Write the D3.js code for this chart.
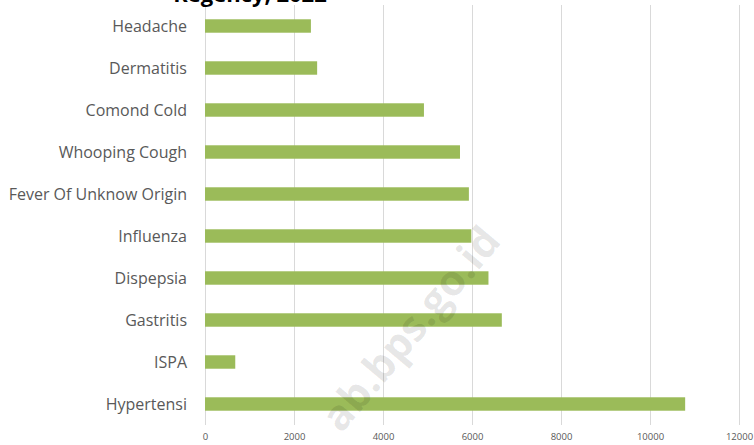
<!DOCTYPE html>
<html>
  <head>
    <meta charset="utf-8">
    <title>Diseases</title>
    <script src="https://d3js.org/d3.v7.min.js"></script>
    <style>
    body { margin: 0; background: #fff; }
    .grid-line { stroke: #d9d9d9; stroke-width: 1px; }
    .cat-label { font-family: "Open Sans", sans-serif; font-size: 16px; fill: #595959; }
    .x-axis text { font-family: "Open Sans", sans-serif; font-size: 9.5px; fill: #595959; }
    </style>
  </head>
  <body>
    <script>
      // data
      const categories = ["Headache", "Dermatitis", "Comond Cold", "Whooping Cough",
        "Fever Of Unknow Origin", "Influenza", "Dispepsia", "Gastritis", "ISPA", "Hypertensi"];
      const cases = [2380, 2520, 4920, 5730, 5930, 5985, 6370, 6670, 680, 10790];
      const xTicks = [0, 2000, 4000, 6000, 8000, 10000, 12000];

      const width = 754;
      const height = 445;

      const svg = d3.select("body")
        .append("svg")
          .attr("width", width)
          .attr("height", height);

      const xScale = d3.scaleLinear()
        .domain([0, 12000])
        .range([205, 739]);

      const yScale = d3.scaleBand()
        .domain(categories)
        .range([5, 425])
        .paddingInner(0.68)
        .paddingOuter(0.34);

      // vertical grid lines
      svg.append("g")
        .selectAll("line")
        .data(xTicks)
        .enter()
        .append("line")
          .classed("grid-line", true)
          .attr("x1", d => xScale(d) + 0.5)
          .attr("x2", d => xScale(d) + 0.5)
          .attr("y1", 5)
          .attr("y2", 425);

      // bars
      svg.append("g")
        .selectAll("rect")
        .data(categories)
        .enter()
        .append("rect")
          .attr("x", xScale(0))
          .attr("y", d => yScale(d))
          .attr("width", (d, i) => xScale(cases[i]) - xScale(0))
          .attr("height", yScale.bandwidth())
          .attr("fill", "#9bbb59");

      // category labels
      svg.append("g")
        .selectAll("text")
        .data(categories)
        .enter()
        .append("text")
          .classed("cat-label", true)
          .attr("x", 187)
          .attr("y", d => yScale(d) + yScale.bandwidth() / 2)
          .attr("dy", "0.35em")
          .attr("text-anchor", "end")
          .text(d => d);

      // x axis, no domain line, no tick marks
      const xAxis = d3.axisBottom(xScale)
        .tickValues(xTicks)
        .tickSize(0)
        .tickPadding(8)
        .tickFormat(d3.format("d"));

      svg.append("g")
        .classed("x-axis", true)
        .attr("transform", "translate(0,425)")
        .call(xAxis)
        .call(g => g.select(".domain").remove());

      // title, mostly cut off at the top as in the source
      svg.append("text")
        .attr("x", 250)
        .attr("y", 2)
        .attr("text-anchor", "middle")
        .style("font-family", "Open Sans, sans-serif")
        .style("font-weight", "bold")
        .style("font-size", "22px")
        .style("fill", "#000")
        .text("Regency, 2022");

      // watermark
      svg.append("text")
        .attr("transform", "translate(422,338) rotate(-50)")
        .attr("text-anchor", "middle")
        .style("font-family", "Open Sans, sans-serif")
        .style("font-weight", "bold")
        .style("font-size", "42px")
        .style("fill", "#000")
        .style("fill-opacity", 0.1)
        .text("ab.bps.go.id");
    </script>
  </body>
</html>
